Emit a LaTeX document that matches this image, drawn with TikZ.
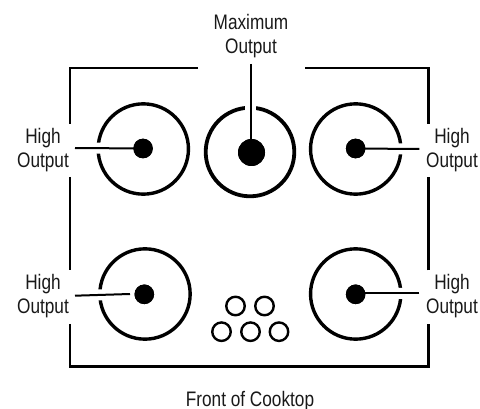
\documentclass[tikz,border=0pt]{standalone}
\usepackage{fontspec}
\setmainfont[FakeStretch=0.82]{Liberation Sans}
\begin{document}
\begin{tikzpicture}[x=1pt,y=-1pt,
  frameline/.style={line width=2.4pt,line cap=butt,line join=miter},
  ring/.style={circle,draw,line width=3.4pt,inner sep=0pt,minimum size=#1,fill=none},
  smallring/.style={circle,draw,line width=2.4pt,inner sep=0pt,minimum size=18.5pt},
  hub/.style={circle,fill=black,inner sep=0pt,minimum size=#1},
  leader/.style={line width=2pt},
  halo/.style={white,line width=11pt},
  lbl/.style={align=center,font=\fontsize{21pt}{24.3pt}\selectfont,inner sep=0pt,text=black!90}]
\useasboundingbox (0,0) rectangle (480,409);
% frame
\coordinate (f1) at (198,68); \coordinate (f2) at (70,68); \coordinate (f3) at (70,124);
\coordinate (f4) at (70,177); \coordinate (f5) at (70,270.5);
\coordinate (f6) at (70,324); \coordinate (f7) at (70,366.5); \coordinate (f8) at (428.5,366.5);
\coordinate (f9) at (428.5,324); \coordinate (f10) at (428.5,270.5);
\coordinate (f11) at (428.5,177); \coordinate (f12) at (428.5,124);
\coordinate (f13) at (428.5,68); \coordinate (f14) at (305,68);
\draw[frameline] (f1) -- (f2) -- (f3);
\draw[frameline] (f4) -- (f5);
\draw[frameline] (f6) -- (f7) -- (f8) -- (f9);
\draw[frameline] (f10) -- (f11);
\draw[frameline] (f12) -- (f13) -- (f14);
% rings
\node[ring=90.3pt] (r1) at (143.3,149) {};
\node[ring=88.6pt,line width=3.8pt] (r2) at (250,152) {};
\node[ring=90.3pt] (r3) at (355.7,149) {};
\node[ring=90.3pt] (r4) at (145,294) {};
\node[ring=90.3pt] (r5) at (355.7,294) {};
% labels
\node[lbl] (l1) at (43,150) {High\\Output};
\node[lbl] (l2) at (251,36) {Maximum\\Output};
\node[lbl] (l3) at (452,150) {High\\Output};
\node[lbl] (l4) at (43,296) {High\\Output};
\node[lbl] (l5) at (452,296) {High\\Output};
\node[lbl,anchor=base] (l6) at (250,406) {Front of Cooktop};
% leader free ends
\coordinate (e1) at (75,148);
\coordinate (e2) at (250.5,64);
\coordinate (e3) at (419.3,149);
\coordinate (e4) at (75,295.7);
\coordinate (e4b) at (130,294);
\coordinate (e5) at (419.3,293);
% hubs
\node[hub=19.6pt] (h1) at (143,148.5) {};
\node[hub=27pt] (h2) at (251.5,152.5) {};
\node[hub=19.6pt] (h3) at (355.7,148.5) {};
\node[hub=19.6pt] (h4) at (144.3,294.3) {};
\node[hub=19.6pt] (h5) at (355.7,294.3) {};
% leaders with breaks in the rings
\draw[halo] (e1) -- (h1.center);
\draw[halo] (e2) -- (250.5,120);
\draw[halo] (e3) -- (h3.center);
\draw[halo] (e4) -- (e4b);
\draw[halo] (e5) -- (h5.center);
\node[hub=19.6pt] at (h1) {};
\node[hub=27pt] at (h2) {};
\node[hub=19.6pt] at (h3) {};
\node[hub=19.6pt] at (h4) {};
\node[hub=19.6pt] at (h5) {};
\draw[leader] (e1) -- (h1.center);
\draw[leader] (e2) -- (e2 |- h2);
\draw[leader] (e3) -- (h3.center);
\draw[leader] (e4) -- (e4b);
\draw[leader] (e5) -- (e5 -| h5);
% small rings
\node[smallring] (s1) at (235.5,306) {};
\node[smallring] (s2) at (264.5,306) {};
\node[smallring] (s3) at (221.5,331.7) {};
\node[smallring] (s4) at (250.5,331.7) {};
\node[smallring] (s5) at (279,331.7) {};
\end{tikzpicture}
\end{document}
